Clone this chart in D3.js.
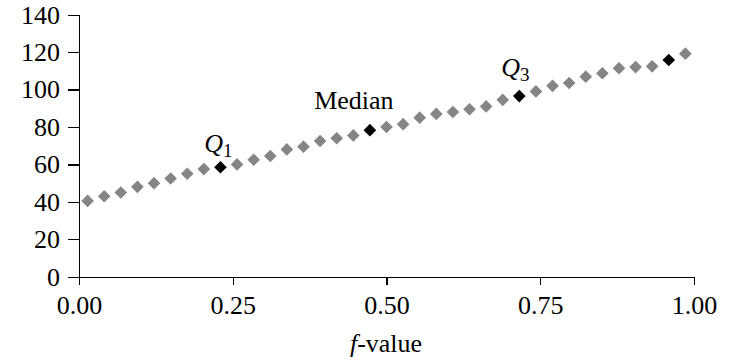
<!DOCTYPE html>
<html>
<head>
<meta charset="utf-8">
<script src="https://cdn.jsdelivr.net/npm/d3@7/dist/d3.min.js"></script>
<style>
  html, body { margin: 0; padding: 0; background: #fff; }
  svg { display: block; }
  .axis path, .axis line { stroke: #000; stroke-width: 1.4; shape-rendering: crispEdges; }
  .axis text { font-family: "Liberation Serif", "Times New Roman", serif; font-size: 26px; fill: #000; }
  .lbl { font-family: "Liberation Serif", "Times New Roman", serif; font-size: 26px; fill: #000; }
</style>
</head>
<body>
<svg id="chart" width="730" height="361"></svg>
<script>
// f-values (plotting positions) of the 37 ordered observations
const fValues = [0.014, 0.041, 0.068, 0.095, 0.122, 0.149, 0.176, 0.203, 0.230, 0.257,
                 0.284, 0.311, 0.338, 0.365, 0.392, 0.419, 0.446, 0.473, 0.500, 0.527,
                 0.554, 0.581, 0.608, 0.635, 0.662, 0.689, 0.716, 0.743, 0.770, 0.797,
                 0.824, 0.851, 0.878, 0.905, 0.932, 0.959, 0.986];
// ordered observation values
const obsValues = [40.5, 43.0, 45.0, 48.0, 50.0, 52.5, 55.0, 57.5, 58.5, 60.0,
                   62.5, 64.5, 68.0, 69.5, 72.5, 74.0, 75.5, 78.3, 80.0, 81.5,
                   85.0, 87.0, 88.0, 89.5, 91.0, 94.5, 96.5, 99.0, 102.0, 103.5,
                   106.9, 108.7, 111.4, 112.0, 112.4, 115.8, 119.2];
// positions (0-based) of the highlighted observations
const highlighted = [8, 17, 26, 35];
// annotations: observation index, text, subscript
const annotations = [
  { idx: 8,  text: "Q", sub: "1", italic: true,  dx: -2,  dy: -15 },
  { idx: 17, text: "Median", sub: "", italic: false, dx: -16, dy: -21 },
  { idx: 26, text: "Q", sub: "3", italic: true,  dx: -4,  dy: -20 }
];
const xTicks = [0, 0.25, 0.5, 0.75, 1.0];
const yTicks = [0, 20, 40, 60, 80, 100, 120, 140];

const svg = d3.select("#chart");
const x = d3.scaleLinear().domain([0, 1]).range([79, 694]);
const y = d3.scaleLinear().domain([0, 140]).range([276.7, 14.7]);

// axes
svg.append("g")
  .attr("class", "axis")
  .attr("transform", `translate(0,${y(0)})`)
  .call(d3.axisBottom(x).tickValues(xTicks).tickFormat(d3.format(".2f"))
        .tickSize(8).tickSizeOuter(0).tickPadding(11));

svg.append("g")
  .attr("class", "axis")
  .attr("transform", `translate(${x(0)},0)`)
  .call(d3.axisLeft(y).tickValues(yTicks).tickSize(11).tickSizeOuter(0).tickPadding(8));

// x axis title
const title = svg.append("text").attr("class", "lbl")
  .attr("x", 386).attr("y", 352).attr("text-anchor", "middle");
title.append("tspan").attr("font-style", "italic").text("f");
title.append("tspan").text("-value");

// diamond markers
const pts = fValues.map((f, i) => ({ f, v: obsValues[i], hi: highlighted.includes(i) }));
const diamond = d3.symbol().type(d3.symbolSquare).size(80);
svg.append("g").selectAll("path")
  .data(pts)
  .join("path")
  .attr("d", diamond)
  .attr("transform", d => `translate(${x(d.f)},${y(d.v)}) rotate(45)`)
  .attr("fill", d => d.hi ? "#000" : "#858585");

// annotations
annotations.forEach(a => {
  const t = svg.append("text").attr("class", "lbl")
    .attr("x", x(fValues[a.idx]) + a.dx)
    .attr("y", y(obsValues[a.idx]) + a.dy)
    .attr("text-anchor", "middle");
  t.append("tspan").attr("font-style", a.italic ? "italic" : "normal").text(a.text);
  if (a.sub) {
    t.append("tspan").attr("font-size", "19px").attr("dy", 5).text(a.sub);
  }
});
</script>
</body>
</html>
